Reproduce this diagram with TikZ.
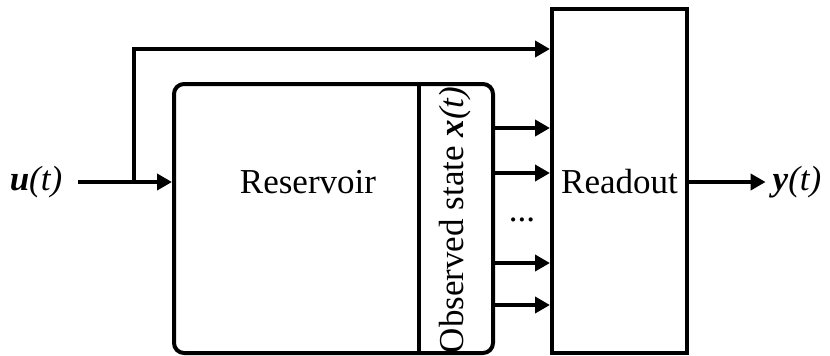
\documentclass[tikz,border=0pt]{standalone}
\usepackage{fontspec}
\setmainfont{Liberation Serif}
\usetikzlibrary{arrows.meta, positioning, calc}

\begin{document}
\begin{tikzpicture}[x=0.5pt, y=-0.5pt,
  resbox/.style={rectangle, draw, line width=2pt, rounded corners=5pt, minimum width=159.5pt, minimum height=134.5pt},
  outbox/.style={rectangle, draw, line width=2pt, minimum width=67.5pt, minimum height=172pt},
  lbl/.style={font=\fontsize{17.5}{21}\selectfont},
  arrow/.style={-{Triangle[length=7.5pt, width=8pt]}, line width=2pt}
]
  \useasboundingbox (0,0) rectangle (830,355);

  \node[resbox] (reservoir) at (333.5,218.5) {};
  \node[outbox] (readout) at (619.5,181) {};
  \draw[line width=2pt] ($(reservoir.north east)+(-76,0)$) -- ($(reservoir.south east)+(-76,0)$);

  \node[lbl] (resText) at (308,182) {Reservoir};
  \node[lbl, rotate=90] (stateText) at (455,220) {Observed state \textbf{\textit{x}}\textit{(t)}};
  \node[lbl] (readText) at (619.5,182) {Readout};
  \node[lbl, anchor=base] (dots) at (522,221) {...};

  \node[lbl] (uIn) at (36,182) {\textbf{\textit{u}}\textit{(t)}};
  \node[lbl] (yOut) at (797,182) {\textbf{\textit{y}}\textit{(t)}};

  \coordinate (split) at (134,182);
  \coordinate (topIn) at (readout.west |- 0,49);

  \draw[arrow, shorten <=4.5pt] (uIn) -- (reservoir.west |- uIn);
  \draw[arrow] (split) |- (topIn);
  \foreach \yy in {128,173,263,305}
    \draw[arrow] (reservoir.east |- 0,\yy) -- (readout.west |- 0,\yy);
  \draw[arrow] (readout.east |- yOut) -- (yOut);
\end{tikzpicture}
\end{document}
